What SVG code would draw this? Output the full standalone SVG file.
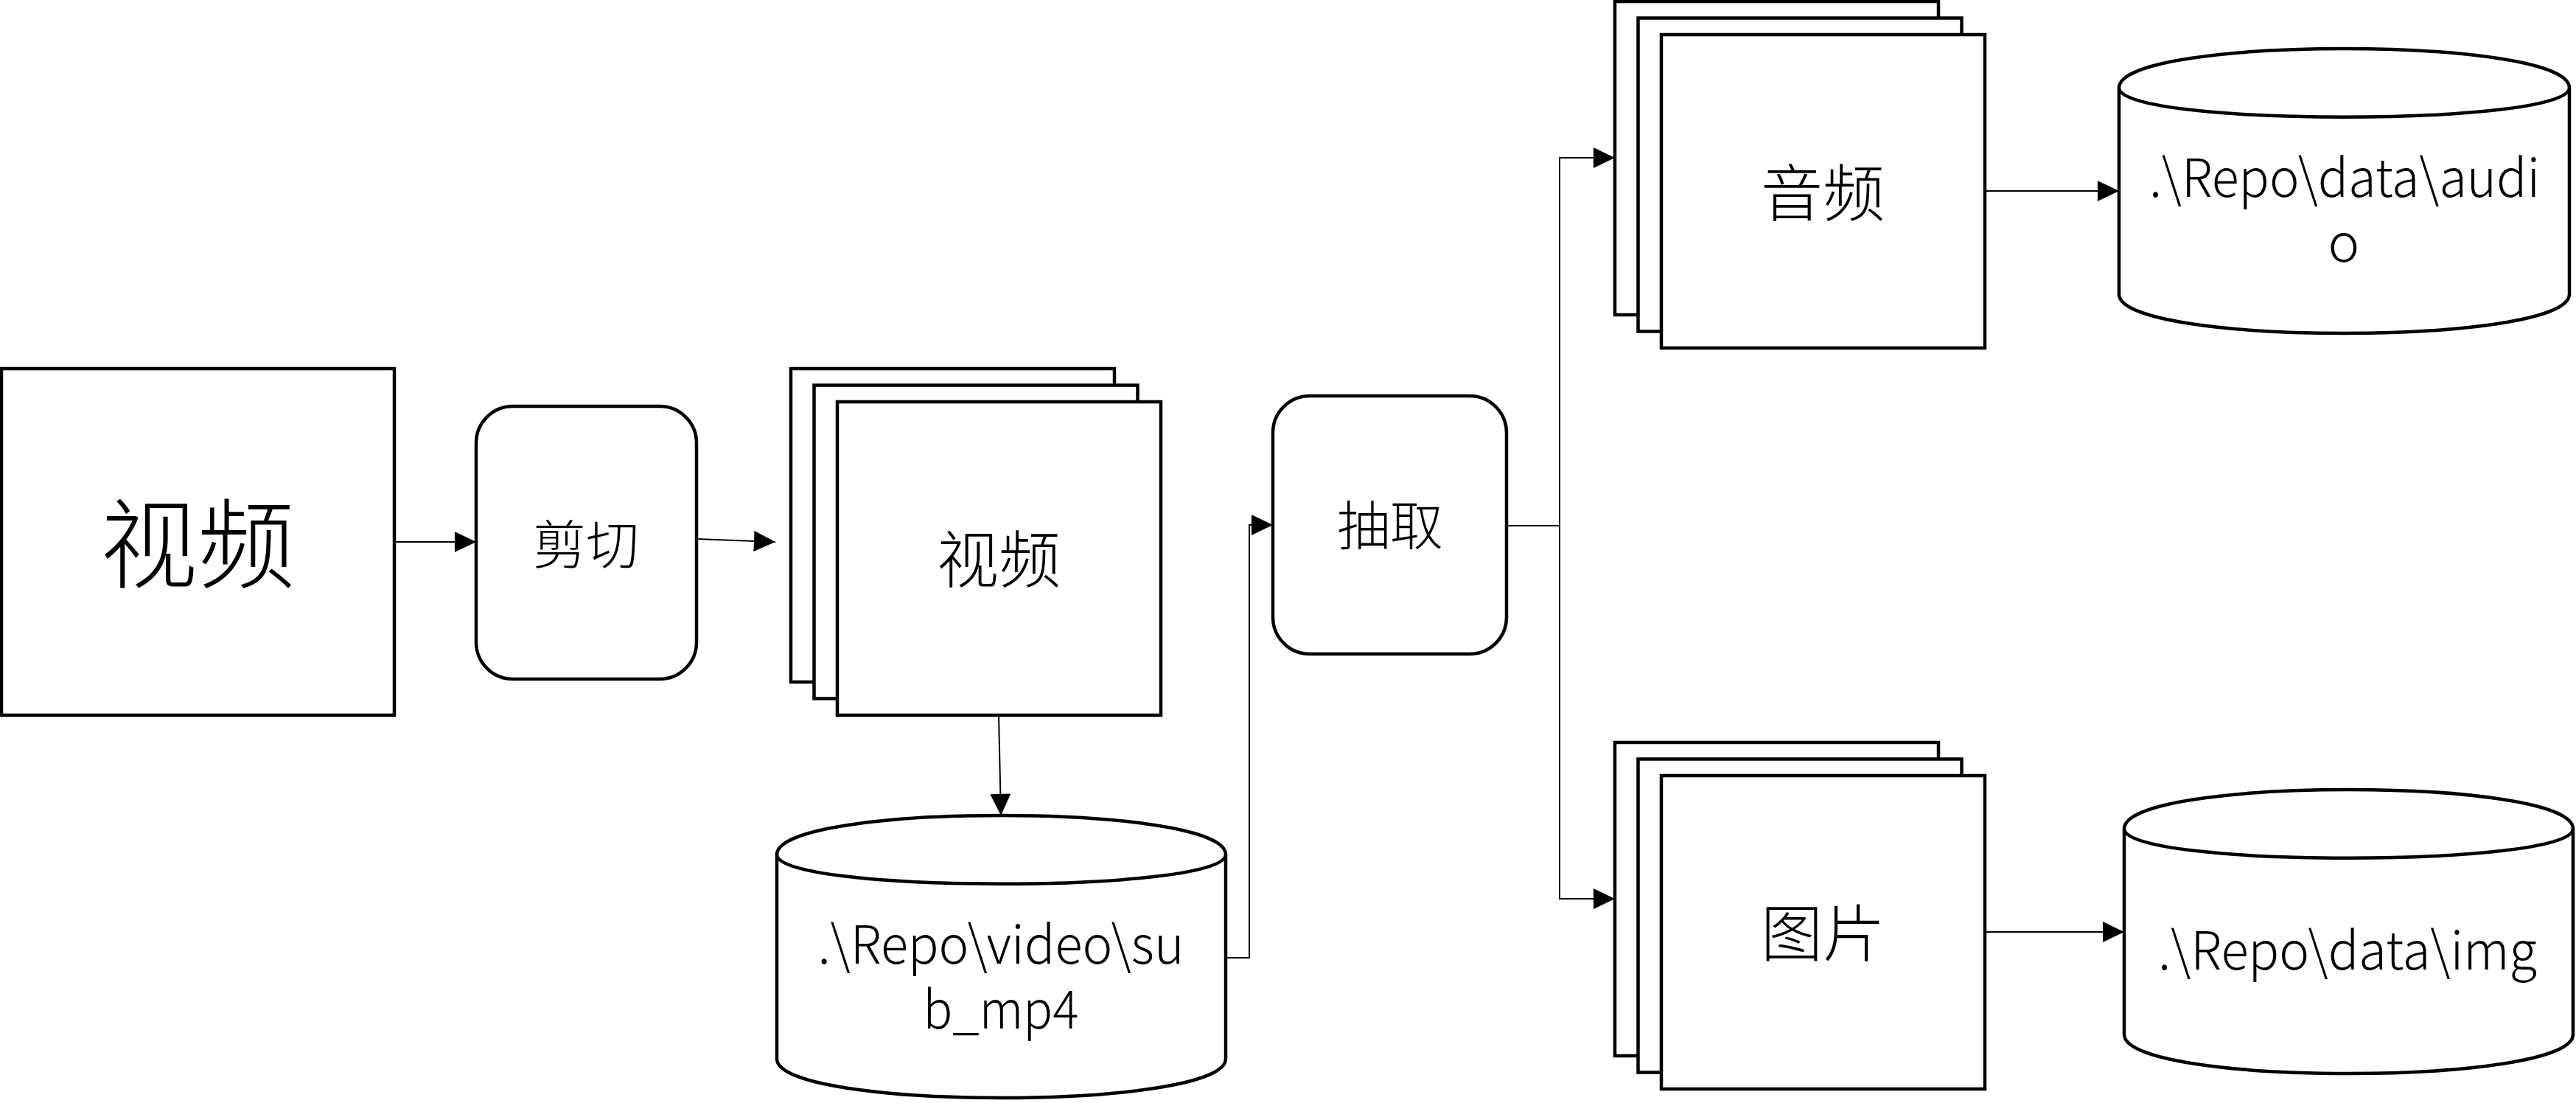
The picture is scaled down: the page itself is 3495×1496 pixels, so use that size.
<svg xmlns="http://www.w3.org/2000/svg" width="3495" height="1496" viewBox="0 0 3495 1496">
<style>
.box{fill:#fff;stroke:#000;stroke-width:4.5}
.conn{fill:none;stroke:#000;stroke-width:2}
.cjk{font-family:"Noto Sans CJK SC","Noto Sans",sans-serif;font-weight:300;fill:#000;text-anchor:middle}
.lat{font-family:"Noto Sans CJK SC","Noto Sans",sans-serif;font-weight:300;fill:#000;text-anchor:middle;font-size:72px}
</style>
<defs>
<marker id="arr" markerUnits="userSpaceOnUse" markerWidth="30" markerHeight="28" viewBox="0 0 27 26" refX="27" refY="13" orient="auto">
<path d="M0,0 L27,13 L0,26 Z" fill="#000"/>
</marker>
</defs>
<rect width="3495" height="1496" fill="#fff"/>

<g id="connectors">
<line class="conn" x1="535" y1="735" x2="646" y2="735" marker-end="url(#arr)"/>
<line class="conn" x1="945" y1="731" x2="1052" y2="735" marker-end="url(#arr)"/>
<line class="conn" x1="1355" y1="970" x2="1358" y2="1106" marker-end="url(#arr)"/>
<polyline class="conn" points="1663,1299 1695,1299 1695,712 1727,712" marker-end="url(#arr)"/>
<polyline class="conn" points="2044,713 2116,713 2116,214 2191,214" marker-end="url(#arr)"/>
<polyline class="conn" points="2116,713 2116,1219 2191,1219" marker-end="url(#arr)"/>
<line class="conn" x1="2693" y1="259" x2="2875" y2="259" marker-end="url(#arr)"/>
<line class="conn" x1="2693" y1="1264" x2="2882" y2="1264" marker-end="url(#arr)"/>
</g>

<g id="node-video-src">
<rect class="box" x="2" y="500" width="533" height="470"/>
<text class="cjk" x="268" y="787" font-size="132">视频</text>
</g>

<g id="node-cut">
<rect class="box" x="646" y="551" width="299" height="370" rx="50" ry="50"/>
<text class="cjk" x="795" y="765" font-size="72">剪切</text>
</g>

<g id="node-video-stack">
<rect class="box" x="1073" y="500" width="439" height="425"/>
<rect class="box" x="1104.5" y="522.5" width="439" height="425"/>
<rect class="box" x="1136" y="545" width="439" height="425"/>
<text class="cjk" x="1355" y="790" font-size="84">视频</text>
</g>

<g id="node-video-db">
<path class="box" d="M1054,1159 C1054,1088.3 1663,1088.3 1663,1159 L1663,1436 C1663,1506.7 1054,1506.7 1054,1436 Z"/>
<path class="box" fill="none" d="M1054,1159 C1054,1212 1663,1212 1663,1159"/>
<text class="lat" x="1358" y="1307" textLength="497" lengthAdjust="spacingAndGlyphs">.\Repo\video\su</text>
<text class="lat" x="1358" y="1395" textLength="211" lengthAdjust="spacingAndGlyphs">b_mp4</text>
</g>

<g id="node-extract">
<rect class="box" x="1727" y="537" width="317" height="350" rx="50" ry="50"/>
<text class="cjk" x="1886" y="739" font-size="72">抽取</text>
</g>

<g id="node-audio-stack">
<rect class="box" x="2191" y="2" width="439" height="425"/>
<rect class="box" x="2222.5" y="24.5" width="439" height="425"/>
<rect class="box" x="2254" y="47" width="439" height="425"/>
<text class="cjk" x="2473" y="293" font-size="84">音频</text>
</g>

<g id="node-image-stack">
<rect class="box" x="2191" y="1007" width="439" height="425"/>
<rect class="box" x="2222.5" y="1029.5" width="439" height="425"/>
<rect class="box" x="2254" y="1052" width="439" height="425"/>
<text class="cjk" x="2473" y="1297" font-size="84">图片</text>
</g>

<g id="node-audio-db">
<path class="box" d="M2875,119 C2875,48.3 3486,48.3 3486,119 L3486,399 C3486,469.7 2875,469.7 2875,399 Z"/>
<path class="box" fill="none" d="M2875,119 C2875,172 3486,172 3486,119"/>
<text class="lat" x="3181" y="267" textLength="530" lengthAdjust="spacingAndGlyphs">.\Repo\data\audi</text>
<text class="lat" x="3180" y="355">o</text>
</g>

<g id="node-image-db">
<path class="box" d="M2882,1124 C2882,1053.3 3491,1053.3 3491,1124 L3491,1403 C3491,1473.7 2882,1473.7 2882,1403 Z"/>
<path class="box" fill="none" d="M2882,1124 C2882,1177 3491,1177 3491,1124"/>
<text class="lat" x="3185" y="1315" textLength="514" lengthAdjust="spacingAndGlyphs">.\Repo\data\img</text>
</g>
</svg>
